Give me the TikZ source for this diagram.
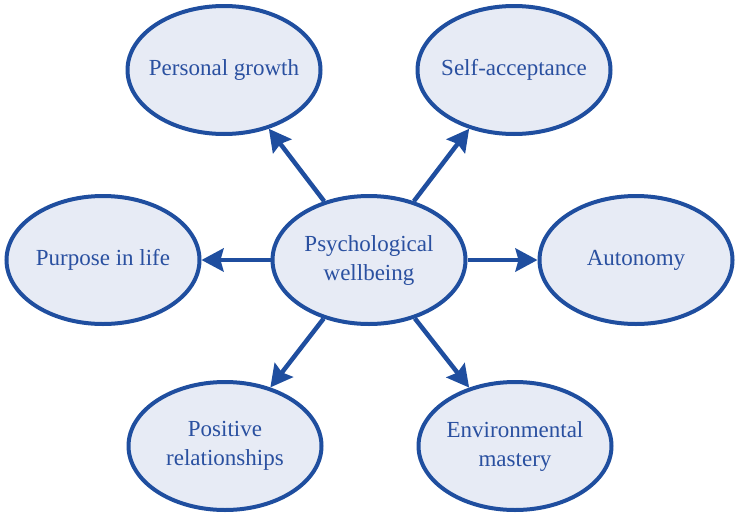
\documentclass[tikz,border=0pt]{standalone}
\usepackage{fontspec}
\setmainfont{Liberation Serif}
\usetikzlibrary{shapes.geometric,arrows.meta}
\definecolor{edgeblue}{HTML}{1F4E9F}
\definecolor{fillblue}{HTML}{E7EBF5}
\definecolor{textblue}{HTML}{2A50A0}
\tikzset{
  bubble/.style={ellipse, draw=edgeblue, line width=4pt, fill=fillblue,
    minimum width=193pt, minimum height=128pt, inner xsep=-25pt, inner ysep=0pt,
    align=center, text=textblue, font=\fontsize{23}{29}\selectfont},
  arr/.style={draw=edgeblue, line width=4.5pt,
    -{Stealth[length=22pt,width=23pt,inset=3pt]}}
}
\begin{document}
\begin{tikzpicture}[x=1pt,y=-1pt]
\useasboundingbox (0,0) rectangle (739,517);
\node[bubble] (c)  at (369,260) {Psychological\\wellbeing};
\node[bubble] (pg) at (224,70)  {Personal growth};
\node[bubble] (sa) at (514,70)  {Self-acceptance};
\node[bubble] (pl) at (103,260) {Purpose in life};
\node[bubble] (au) at (636,260) {Autonomy};
\node[bubble] (pr) at (225,446) {Positive\\relationships};
\node[bubble] (em) at (515,446) {Environmental\\mastery};
\draw[arr] (c) -- (pg);
\draw[arr] (c) -- (sa);
\draw[arr] (c) -- (pl);
\draw[arr] (c) -- (au);
\draw[arr] (c) -- (pr);
\draw[arr] (c) -- (em);
\end{tikzpicture}
\end{document}
